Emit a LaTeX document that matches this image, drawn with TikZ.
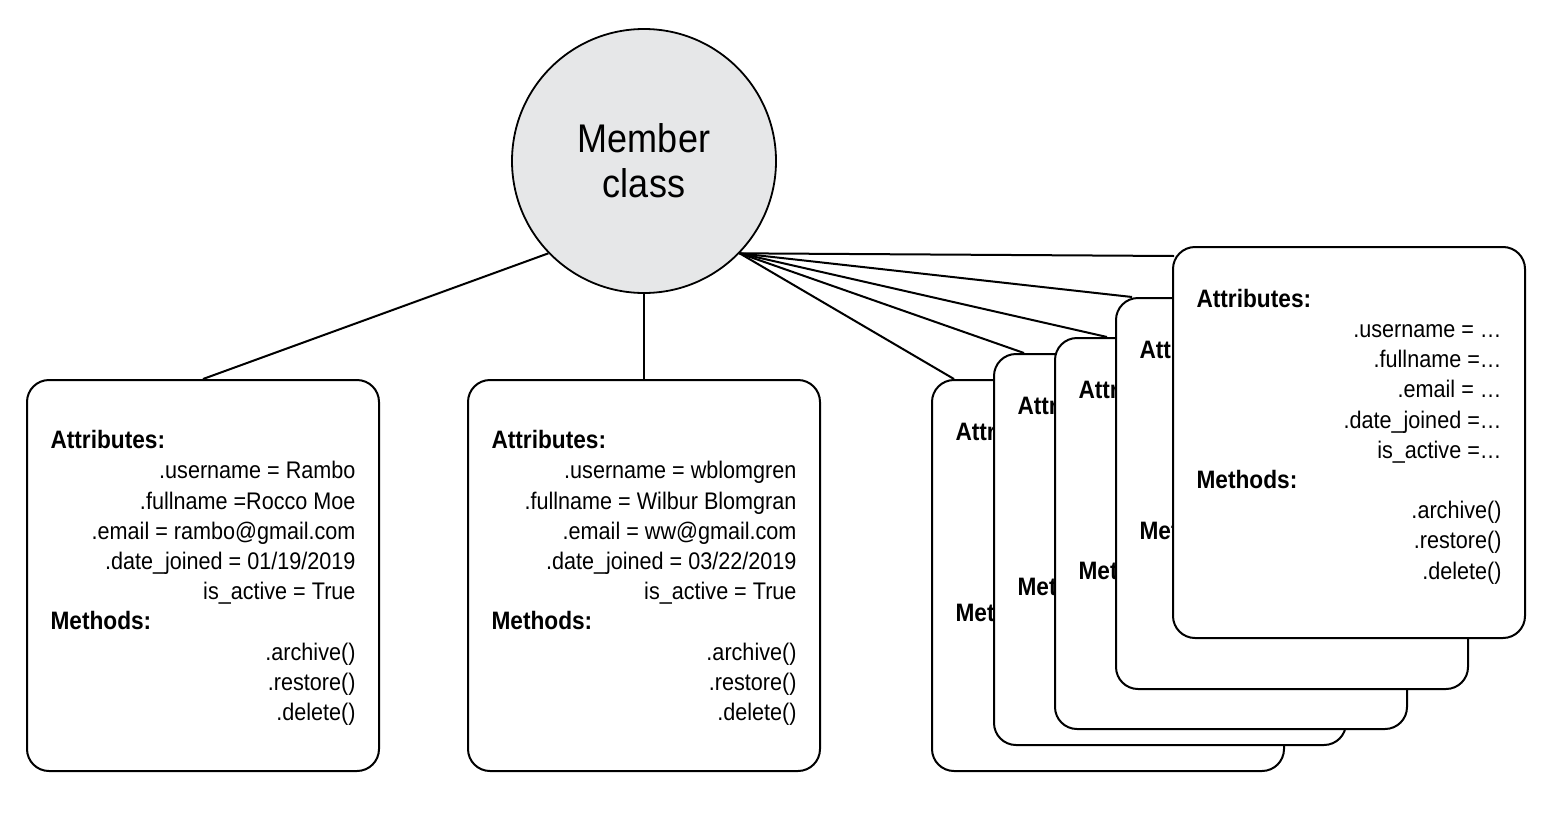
\documentclass[tikz,border=0pt]{standalone}
\usepackage{fontspec}
\setmainfont{Liberation Sans}[FakeStretch=0.9]
\usetikzlibrary{backgrounds}

\definecolor{classgray}{HTML}{E6E7E8}
\newlength{\colw}
\setlength{\colw}{152.5pt}
\newcommand{\hd}[1]{\makebox[\colw][l]{\fontsize{12.6}{15.1}\bfseries #1}}
\newcommand{\vl}[1]{\makebox[\colw][r]{#1}}
\newcommand{\methodlines}{\hd{Methods:}\\ \vl{.archive()}\\ \vl{.restore()}\\ \vl{.delete()}}
\newcommand{\dotsobject}{\hd{Attributes:}\\ \vl{.username = \dots}\\ \vl{.fullname =\dots}\\
  \vl{.email = \dots}\\ \vl{.date\_joined =\dots}\\ \vl{is\_active =\dots}\\ \methodlines}
% objects further back: only their headings show past the next card
\newcommand{\backobject}{\hd{Attributes:}\\ \vl{}\\ \vl{}\\ \vl{}\\ \vl{}\\ \vl{}\\
  \hd{Methods:}\\ \vl{}\\ \vl{}\\ \vl{\vphantom{()}}}

\begin{document}
\begin{tikzpicture}[x=0.5pt, y=-0.5pt,
    objbox/.style={draw, line width=1pt, rounded corners=11pt, fill=white,
      minimum width=176pt, minimum height=195.5pt, inner sep=0pt, align=center,
      text depth=0pt, font=\fontsize{12}{15.1}\selectfont},
    stackbox/.style={objbox, text depth=8.5pt},
    link/.style={line width=1pt}]
  \useasboundingbox (0,0) rectangle (1557,835);

  \node[draw, circle, line width=0.9pt, fill=classgray, minimum size=132pt,
    align=center, font=\fontsize{20}{22.5}\selectfont] (member) at (644,161) {Member\\class};

  \node[objbox] (rambo) at (203,575.5) {\hd{Attributes:}\\ \vl{.username = Rambo}\\
    \vl{.fullname =Rocco Moe}\\ \vl{.email = rambo@gmail.com}\\
    \vl{.date\_joined = 01/19/2019}\\ \vl{is\_active = True}\\ \methodlines};
  \node[objbox] (wilbur) at (644,575.5) {\hd{Attributes:}\\ \vl{.username = wblomgren}\\
    \vl{.fullname = Wilbur Blomgran}\\ \vl{.email = ww@gmail.com}\\
    \vl{.date\_joined = 03/22/2019}\\ \vl{is\_active = True}\\ \methodlines};

  % stack of further objects, back to front
  \node[stackbox] (objA) at (1108,575.5) {\backobject};
  \node[stackbox] (objB) at (1170,549.5) {\backobject};
  \node[stackbox] (objC) at (1231,533.5) {\backobject};
  \node[stackbox] (objD) at (1292,493.5) {\backobject};
  \node[stackbox] (objE) at (1349,442.5) {\dotsobject};

  \begin{pgfonlayer}{background}
    \draw[link] (member.224) -- (rambo.north);
    \draw[link] (member.south) -- (wilbur.north);
    \draw[link] (member.316) -- ([xshift=11.5pt]objA.north west);
    \draw[link] (member.316) -- ([xshift=15.5pt]objB.north west);
    \draw[link] (member.316) -- ([xshift=26.5pt]objC.north west);
    \draw[link] (member.316) -- ([xshift=8.5pt]objD.north west);
    \draw[link] (member.316) -- ([xshift=1pt,yshift=-5pt]objE.north west);
  \end{pgfonlayer}
\end{tikzpicture}
\end{document}
